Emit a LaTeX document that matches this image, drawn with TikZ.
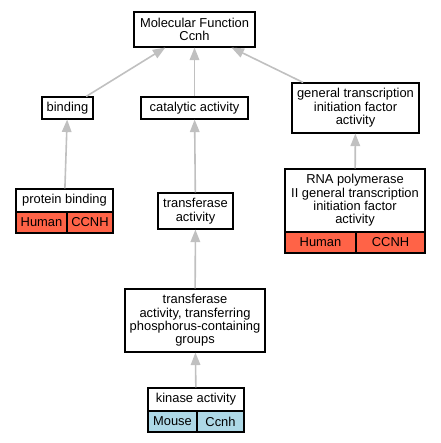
\documentclass[tikz,border=0pt]{standalone}
\usepackage{fontspec}
\setmainfont{Liberation Sans}
\usetikzlibrary{arrows.meta}
\definecolor{humanred}{HTML}{FF6347}
\definecolor{mouseblue}{HTML}{ADD8E6}
\definecolor{edgegray}{HTML}{C0C0C0}
\begin{document}
\begin{tikzpicture}[x=1pt,y=-1pt,
  box/.style={draw=black, line width=1.1pt, fill=white, inner sep=0pt, align=center,
    font=\fontsize{12.9}{13.4}\selectfont},
  cell/.style={box, fill=#1},
  edge/.style={draw=edgegray, line width=1.6pt, -{Triangle[length=12.5pt,width=9.5pt]}}]
\useasboundingbox (0,0) rectangle (440,443);
% edges first (behind)
\coordinate (dummy) at (0,0);
% nodes
\node[box, minimum width=121pt, minimum height=35pt] (mf) at (194.5,29.5) {Molecular Function\\Ccnh};
\node[box, minimum width=51pt, minimum height=22pt] (binding) at (67.5,108) {binding};
\node[box, minimum width=107pt, minimum height=22pt] (catalytic) at (194.5,108) {catalytic activity};
\node[box, minimum width=127pt, minimum height=50pt] (general) at (355.5,108) {general transcription\\initiation factor\\activity};
% protein binding record
\node[box, minimum width=97pt, minimum height=23pt] (pb) at (64.5,200.5) {protein binding};
\node[cell=humanred, minimum width=51pt, minimum height=21pt] (pbh) at (41.5,222.5) {Human};
\node[cell=humanred, minimum width=46pt, minimum height=21pt] (pbg) at (90,222.5) {CCNH};
% transferase
\node[box, minimum width=75pt, minimum height=36pt] (trans) at (195.5,211) {transferase\\activity};
% RNA pol record
\node[box, minimum width=140pt, minimum height=63pt] (rna) at (355,200.5) {RNA polymerase\\II general transcription\\initiation factor\\activity};
\node[cell=humanred, minimum width=71pt, minimum height=21pt] (rnah) at (320.5,242.5) {Human};
\node[cell=humanred, minimum width=69pt, minimum height=21pt] (rnag) at (390.5,242.5) {CCNH};
% phosphorus
\node[box, minimum width=140pt, minimum height=63pt] (phos) at (195,320.5) {transferase\\activity, transferring\\phosphorus-containing\\groups};
% kinase record
\node[box, minimum width=96pt, minimum height=23pt] (kin) at (196,399.5) {kinase activity};
\node[cell=mouseblue, minimum width=49pt, minimum height=21pt] (kinm) at (172.5,421.5) {Mouse};
\node[cell=mouseblue, minimum width=47pt, minimum height=21pt] (king) at (220.5,421.5) {Ccnh};
% edges
\draw[edge] (binding) -- (mf);
\draw[edge] (catalytic) -- (mf);
\draw[edge] (general) -- (mf);
\draw[edge] (pb) -- (binding);
\draw[edge] (trans) -- (catalytic);
\draw[edge] (rna) -- (general);
\draw[edge] (phos) -- (trans);
\draw[edge] (kin) -- (phos);
\end{tikzpicture}
\end{document}
